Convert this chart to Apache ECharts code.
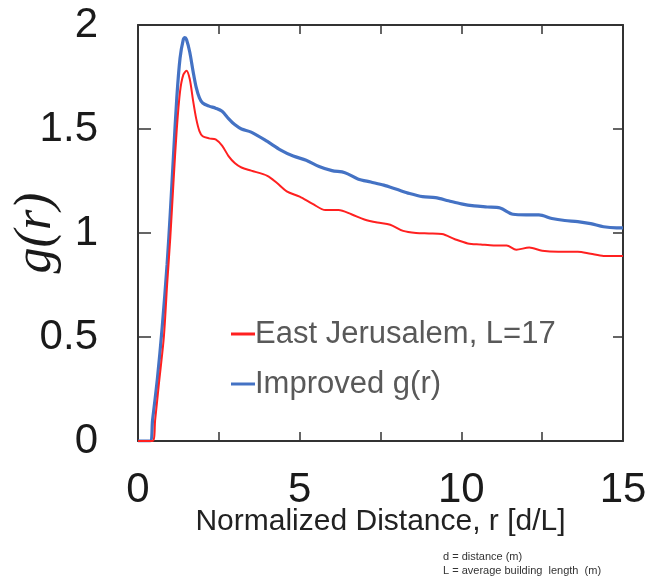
<!DOCTYPE html>
<html>
<head>
<meta charset="utf-8">
<script src="https://cdn.jsdelivr.net/npm/echarts@6/dist/echarts.min.js"></script>
<style>html,body{margin:0;padding:0;background:#fff}#c{width:648px;height:579px}</style>
</head>
<body>
<div id="c"></div>
<script>
const seriesNames = ['East Jerusalem, L=17', 'Improved g(r)'];
const xTicks = [0, 5, 10, 15];
const yTicks = [0, 0.5, 1, 1.5, 2];

const redR = [0, 0.45, 0.53, 0.65, 0.8, 0.9, 1.0, 1.1, 1.2, 1.3, 1.4, 1.5, 1.6, 1.7, 1.8, 1.9, 2.0, 2.2, 2.4, 2.6, 2.8, 3.0, 3.2, 3.5, 4.0, 4.3, 4.6, 5.0, 5.4, 5.8, 6.2, 6.6, 7.0, 7.4, 7.8, 8.2, 8.6, 9.0, 9.4, 9.8, 10.2, 10.6, 11.0, 11.4, 11.7, 12.1, 12.5, 13.0, 13.6, 14.0, 14.4, 15.0];
const redG = [0, 0, 0.1, 0.28, 0.5, 0.75, 0.98, 1.25, 1.5, 1.68, 1.76, 1.78, 1.74, 1.64, 1.55, 1.49, 1.465, 1.455, 1.45, 1.42, 1.37, 1.335, 1.315, 1.30, 1.275, 1.24, 1.20, 1.175, 1.14, 1.11, 1.11, 1.09, 1.065, 1.05, 1.04, 1.01, 1.0, 0.998, 0.995, 0.97, 0.95, 0.945, 0.94, 0.94, 0.92, 0.93, 0.915, 0.91, 0.91, 0.9, 0.89, 0.89];

const blueR = [0, 0.37, 0.45, 0.6, 0.75, 0.9, 1.0, 1.1, 1.2, 1.3, 1.4, 1.45, 1.5, 1.6, 1.7, 1.8, 1.9, 2.0, 2.2, 2.4, 2.6, 2.8, 3.0, 3.2, 3.5, 4.0, 4.4, 4.8, 5.2, 5.6, 6.0, 6.4, 6.8, 7.2, 7.6, 8.0, 8.4, 8.8, 9.2, 9.6, 10.0, 10.4, 10.8, 11.2, 11.6, 12.0, 12.4, 12.8, 13.2, 13.6, 14.0, 14.4, 14.8, 15.0];
const blueG = [0, 0, 0.1, 0.3, 0.55, 0.85, 1.1, 1.38, 1.65, 1.84, 1.93, 1.94, 1.93, 1.87, 1.78, 1.7, 1.65, 1.625, 1.61, 1.6, 1.585, 1.55, 1.52, 1.5, 1.485, 1.44, 1.4, 1.37, 1.35, 1.32, 1.3, 1.29, 1.26, 1.245, 1.23, 1.21, 1.19, 1.175, 1.17, 1.155, 1.14, 1.13, 1.125, 1.12, 1.09, 1.087, 1.087, 1.07, 1.06, 1.055, 1.045, 1.03, 1.025, 1.025];

const zip = (a, b) => a.map((v, i) => [v, b[i]]);
const chart = echarts.init(document.getElementById('c'));
const axisColor = '#333';
const labelFont = { fontFamily: 'Liberation Sans', fontSize: 42, color: '#1a1a1a' };
const lineCfg = { onZero: false, lineStyle: { color: axisColor, width: 2 } };

chart.setOption({
  animation: false,
  grid: { left: 138, right: 25, top: 25, bottom: 138, outerBoundsMode: 'none', containLabel: false },
  legend: {
    orient: 'vertical', left: 226, top: 313, itemWidth: 24, itemHeight: 3, itemGap: 18,
    textStyle: { fontFamily: 'Liberation Sans', fontSize: 31, color: '#595959', lineHeight: 32, padding: [0, 0, 0, -5] },
    data: [
      { name: seriesNames[0], icon: 'rect', itemStyle: { color: '#ff2020' } },
      { name: seriesNames[1], icon: 'rect', itemStyle: { color: '#4472c4' } }
    ]
  },
  xAxis: [{
    type: 'value', min: 0, max: 15, interval: 2.5,
    name: 'Normalized Distance, r [d/L]', nameLocation: 'middle', nameGap: 66, nameMoveOverlap: false,
    nameTextStyle: { fontFamily: 'Liberation Sans', fontSize: 30, color: '#222' },
    axisLine: lineCfg,
    axisTick: { inside: true, length: 9, lineStyle: { color: axisColor, width: 1.5 } },
    axisLabel: { ...labelFont, margin: 28, formatter: v => xTicks.includes(v) ? String(v) : '' },
    splitLine: { show: false }
  }, {
    type: 'value', min: 0, max: 15, interval: 2.5, position: 'top',
    axisLine: lineCfg,
    axisTick: { inside: true, length: 9, lineStyle: { color: axisColor, width: 1.5 } },
    axisLabel: { show: false }, splitLine: { show: false }
  }],
  yAxis: [{
    type: 'value', min: 0, max: 2, interval: 0.5,
    name: 'g(r)', nameLocation: 'middle', nameGap: 76, nameMoveOverlap: false,
    nameTextStyle: { fontFamily: 'Liberation Serif', fontStyle: 'italic', fontSize: 52, color: '#1a1a1a' },
    axisLine: lineCfg,
    axisTick: { inside: true, length: 13, lineStyle: { color: axisColor, width: 1.5 } },
    axisLabel: { ...labelFont, margin: 40, formatter: v => yTicks.includes(v) ? String(v) : '' },
    splitLine: { show: false }
  }, {
    type: 'value', min: 0, max: 2, interval: 0.5, position: 'right',
    axisLine: lineCfg,
    axisTick: { inside: true, length: 10, lineStyle: { color: axisColor, width: 1.5 } },
    axisLabel: { show: false }, splitLine: { show: false }
  }],
  series: [{
    name: seriesNames[0], type: 'line', data: zip(redR, redG), showSymbol: false, smooth: 0.3,
    lineStyle: { color: '#ff2020', width: 2 }, itemStyle: { color: '#ff2020' }, z: 3
  }, {
    name: seriesNames[1], type: 'line', data: zip(blueR, blueG), showSymbol: false, smooth: 0.3,
    lineStyle: { color: '#4472c4', width: 3.2 }, itemStyle: { color: '#4472c4' }, z: 2
  }],
  graphic: [{
    type: 'text', left: 443, top: 550,
    style: { text: 'd = distance (m)\nL = average building  length  (m)', fontFamily: 'Liberation Sans', fontSize: 11, lineHeight: 14, fill: '#333' }
  }]
});
</script>
</body>
</html>
